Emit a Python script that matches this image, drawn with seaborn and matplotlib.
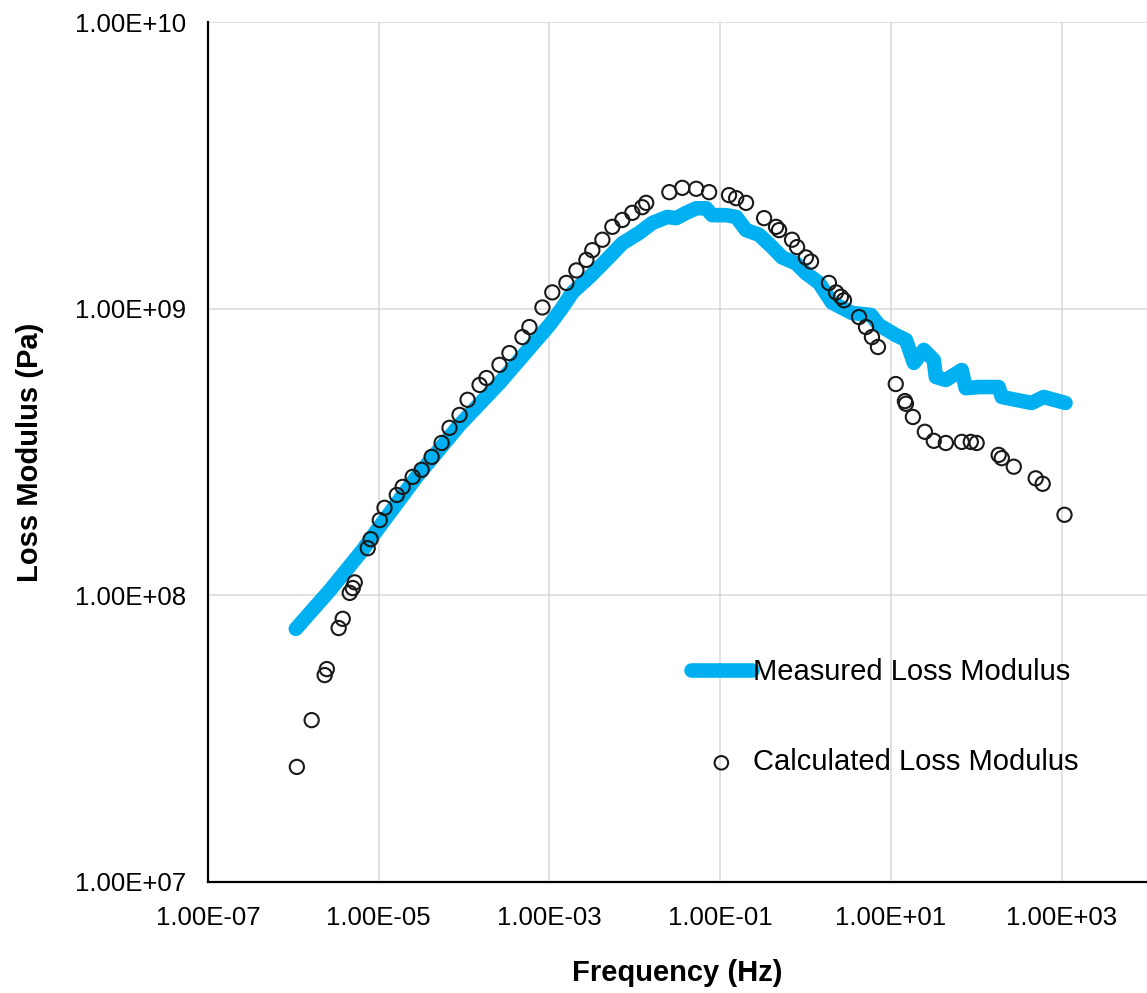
import matplotlib
matplotlib.use("Agg")
import matplotlib.pyplot as plt
import matplotlib.ticker as mticker
import seaborn as sns

# Measured loss modulus
measured_freq = [1.07e-6, 2.67e-6, 6.50e-6, 1.0e-5, 2.78e-5, 8.85e-5, 2.60e-4, 1.0e-3,
                 1.42e-3, 1.86e-3, 2.94e-3, 4.65e-3, 7.14e-3, 1.13e-2, 1.60e-2, 2.40e-2,
                 3.05e-2, 4.00e-2, 5.24e-2, 6.85e-2, 8.05e-2, 1.17e-1, 1.54e-1, 2.01e-1,
                 2.86e-1, 4.06e-1, 5.31e-1, 7.74e-1, 1.01, 1.44, 2.04,
                 3.50, 5.83, 7.24, 11.4, 15.0, 18.6, 24.3, 31.8, 33.6, 44.0, 67.6, 75.3,
                 107, 183, 199, 290, 446, 615, 1110]
measured_gpp = [7.64e7, 1.04e8, 1.44e8, 1.72e8, 2.59e8, 3.93e8, 5.51e8, 8.77e8,
                1.01e9, 1.14e9, 1.29e9, 1.48e9, 1.69e9, 1.84e9, 1.99e9, 2.09e9,
                2.07e9, 2.16e9, 2.24e9, 2.24e9, 2.12e9, 2.12e9, 2.09e9, 1.88e9,
                1.81e9, 1.64e9, 1.51e9, 1.44e9, 1.33e9, 1.23e9, 1.05e9,
                9.66e8, 9.51e8, 8.77e8, 8.09e8, 7.78e8, 6.47e8, 7.18e8, 6.62e8, 5.78e8, 5.64e8, 6.11e8, 5.28e8,
                5.33e8, 5.33e8, 4.92e8, 4.81e8, 4.69e8, 4.92e8, 4.69e8]

# Calculated loss modulus
calc_freq = [1.10e-6, 1.64e-6, 2.33e-6, 2.47e-6, 3.40e-6, 3.79e-6, 4.58e-6, 4.97e-6,
             5.24e-6, 7.43e-6, 8.05e-6, 1.03e-5, 1.17e-5, 1.63e-5, 1.91e-5, 2.50e-5,
             3.18e-5, 4.17e-5, 5.46e-5, 6.76e-5, 8.85e-5, 1.10e-4, 1.52e-4, 1.83e-4,
             2.60e-4, 3.40e-4, 4.83e-4, 5.83e-4, 8.28e-4, 1.08e-3, 1.58e-3, 2.07e-3,
             2.71e-3, 3.18e-3, 4.17e-3, 5.46e-3, 7.14e-3, 9.35e-3, 1.22e-2, 1.36e-2,
             2.54e-2, 3.60e-2, 5.24e-2, 7.43e-2, 1.27e-1, 1.54e-1, 2.01e-1, 3.27e-1,
             4.52e-1, 4.90e-1, 6.95e-1, 7.96e-1, 1.01, 1.16, 1.88, 2.28, 2.60, 2.82,
             4.23, 5.11, 6.00, 7.05, 11.4, 14.6, 15.0, 18.1, 25.0, 31.8, 44.0, 67.6,
             86.3, 101, 183, 199, 275, 497, 600, 1080]
calc_gpp = [2.52e7, 3.67e7, 5.27e7, 5.53e7, 7.69e7, 8.28e7, 1.02e8, 1.06e8,
            1.11e8, 1.46e8, 1.57e8, 1.83e8, 2.02e8, 2.24e8, 2.39e8, 2.59e8,
            2.74e8, 3.04e8, 3.40e8, 3.84e8, 4.26e8, 4.81e8, 5.42e8, 5.73e8,
            6.37e8, 7.00e8, 7.96e8, 8.63e8, 1.01e9, 1.14e9, 1.23e9, 1.36e9,
            1.48e9, 1.60e9, 1.74e9, 1.93e9, 2.04e9, 2.16e9, 2.26e9, 2.34e9,
            2.55e9, 2.64e9, 2.62e9, 2.55e9, 2.49e9, 2.43e9, 2.34e9, 2.07e9,
            1.93e9, 1.88e9, 1.74e9, 1.64e9, 1.51e9, 1.46e9, 1.23e9, 1.14e9, 1.10e9, 1.07e9,
            9.35e8, 8.63e8, 7.96e8, 7.35e8, 5.46e8, 4.76e8, 4.66e8, 4.19e8, 3.72e8, 3.46e8, 3.40e8, 3.43e8,
            3.43e8, 3.40e8, 3.09e8, 3.01e8, 2.81e8, 2.56e8, 2.45e8, 1.91e8]

x_ticks = [1e-7, 1e-5, 1e-3, 1e-1, 1e1, 1e3]
y_ticks = [1e7, 1e8, 1e9, 1e10]

sns.set_theme(style="white")
plt.rcParams['font.family'] = ['Liberation Sans', 'DejaVu Sans']
plt.rcParams['text.color'] = 'black'
plt.rcParams['axes.labelcolor'] = 'black'

fig = plt.figure(figsize=(11.47, 9.93), dpi=100)
ax = fig.add_axes([0.1813, 0.1118, 0.8187, 0.866])

sns.lineplot(x=measured_freq, y=measured_gpp, ax=ax, color='#00B0F0', linewidth=10.5,
             sort=False, solid_capstyle='round', solid_joinstyle='round',
             label='Measured Loss Modulus', zorder=2)
sns.scatterplot(x=calc_freq, y=calc_gpp, ax=ax, marker='o', s=105, facecolor='none',
                edgecolor='#1a1a1a', linewidth=1.5, label='Calculated Loss Modulus', zorder=3)

ax.set_xscale('log')
ax.set_yscale('log')
ax.set_xlim(1e-7, 1e4)
ax.set_ylim(1e7, 1e10)
ax.set_xticks(x_ticks)
ax.set_yticks(y_ticks)
ax.xaxis.set_minor_locator(mticker.NullLocator())
ax.yaxis.set_minor_locator(mticker.NullLocator())
fmt = mticker.FuncFormatter(lambda v, p: f"{v:.2E}")
ax.xaxis.set_major_formatter(fmt)
ax.yaxis.set_major_formatter(fmt)
ax.tick_params(axis='both', labelsize=18.5, length=0, colors='black')
ax.tick_params(axis='x', pad=17)
ax.tick_params(axis='y', pad=16)

ax.grid(True, color='#D9D9D9', linewidth=1.1)
ax.set_axisbelow(True)
for side in ['top', 'right']:
    ax.spines[side].set_visible(False)
for side in ['left', 'bottom']:
    ax.spines[side].set_color('black')
    ax.spines[side].set_linewidth(1.6)

ax.set_xlabel('Frequency (Hz)', fontsize=21, fontweight='bold', labelpad=21)
ax.set_ylabel('Loss Modulus (Pa)', fontsize=21, fontweight='bold', labelpad=22)

ax.legend(loc='upper left', bbox_to_anchor=(0.5895, 0.352), bbox_transform=fig.transFigure,
          frameon=False, fontsize=21, borderpad=0, handlelength=2.1, handletextpad=0.05,
          labelspacing=2.14, markerscale=0.95)

fig.savefig('out.png', dpi=100)
